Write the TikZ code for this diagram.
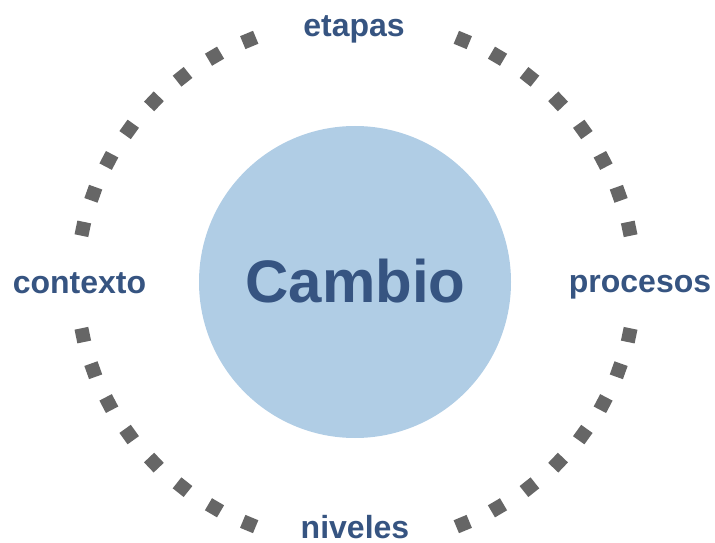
\documentclass[tikz,border=0pt]{standalone}
\usepackage{fontspec}
\setmainfont{Liberation Sans}
\definecolor{etiqueta}{HTML}{365481}
\definecolor{relleno}{HTML}{B0CDE5}
\definecolor{punto}{HTML}{666666}

\begin{document}
\begin{tikzpicture}[x=1pt,y=1pt]
\tikzstyle{every node}+=[inner sep=0pt]
\tikzstyle{etiqueta}=[text=etiqueta, font=\fontsize{32}{38}\selectfont\bfseries, anchor=base]
\tikzstyle{cuadro}=[fill=punto, minimum size=14pt]
\useasboundingbox (0,0) rectangle (715,542);
\node [circle, fill=relleno, minimum size=312pt] (centro) at (355,260) {};
\node [text=etiqueta, font=\fontsize{60}{70}\selectfont\bfseries, anchor=base] (cambio) at (355.5,240) {Cambio};
\foreach \b in {0,180}
  \foreach \k in {0,...,7} {
    \pgfmathsetmacro{\ta}{\b+11.7+7.97*\k}
    \pgfmathsetmacro{\tb}{\b+112.5+7.97*\k}
    \node [cuadro, rotate=\ta] (cuadro-a-\b-\k) at ({356+279*cos(\ta)},{260+262*sin(\ta)}) {};
    \node [cuadro, rotate=\tb] (cuadro-b-\b-\k) at ({356+279*cos(\tb)},{260+262*sin(\tb)}) {};
  }
\node [etiqueta] (etapas) at (354,505) {etapas};
\node [etiqueta] (niveles) at (355,4) {niveles};
\node [etiqueta] (contexto) at (79.5,249) {contexto};
\node [etiqueta] (procesos) at (640,250) {procesos};
\end{tikzpicture}
\end{document}
